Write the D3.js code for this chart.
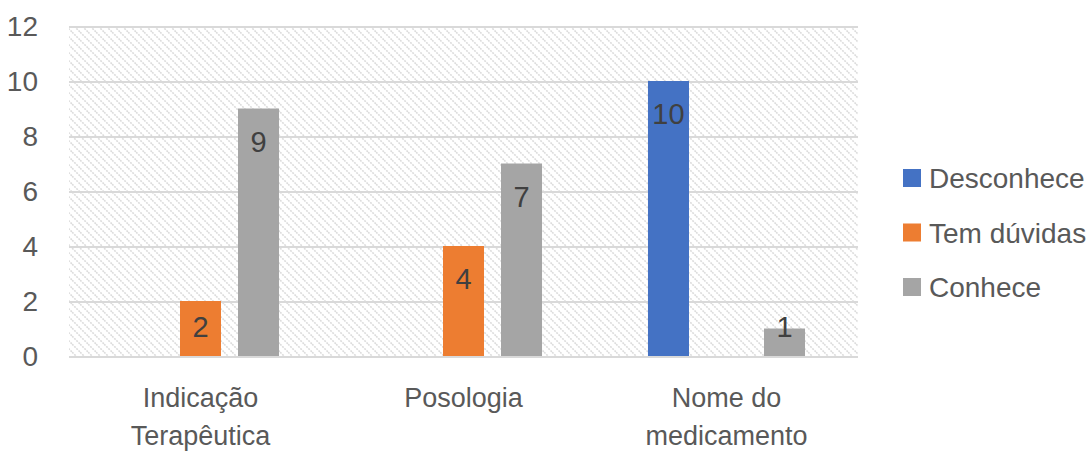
<!DOCTYPE html>
<html>
<head>
<meta charset="utf-8">
<style>
body { margin: 0; background: #fff; }
text { font-family: "Liberation Sans", Arial, sans-serif; fill: #595959; }
.grid line { stroke: #d9d9d9; stroke-width: 2; shape-rendering: crispEdges; }
.grid path { stroke-width: 0; }
</style>
</head>
<body>
<script src="https://cdn.jsdelivr.net/npm/d3@7"></script>
<script>

// chart data
var categories = ["Indicação Terapêutica", "Posologia", "Nome do medicamento"];
var categoryLines = [["Indicação", "Terapêutica"], ["Posologia"], ["Nome do", "medicamento"]];
var seriesNames = ["Desconhece", "Tem dúvidas", "Conhece"];
var desconhece = [0, 0, 10];
var temDuvidas = [2, 4, 0];
var conhece = [9, 7, 1];
var yTicks = [0, 2, 4, 6, 8, 10, 12];

var seriesValues = [desconhece, temDuvidas, conhece];
var colors = ["#4472C4", "#ED7D31", "#A5A5A5"];

var width = 1092, height = 452;
var plot = {left: 69, right: 858, top: 26, bottom: 356};

var svg = d3.select("body").append("svg")
    .attr("width", width)
    .attr("height", height);

// hatched background pattern
var defs = svg.append("defs");
var pat = defs.append("pattern")
    .attr("id", "hatch")
    .attr("patternUnits", "userSpaceOnUse")
    .attr("width", 8).attr("height", 8);
pat.append("path")
    .attr("d", "M-2,-2 L10,10 M-2,6 L2,10 M6,-2 L10,2")
    .style("stroke", "#dcdcdc")
    .style("stroke-width", 1.6)
    .style("stroke-dasharray", "2,1");

var x0 = d3.scaleBand().domain(categories).range([plot.left, plot.right]);
var x1 = d3.scaleBand().domain(seriesNames)
    .range([0, x0.bandwidth()])
    .paddingInner(0.293)
    .paddingOuter(0.913);
var y = d3.scaleLinear().domain([0, 12]).range([plot.bottom, plot.top]);

svg.append("rect")
    .attr("x", plot.left).attr("y", plot.top)
    .attr("width", plot.right - plot.left)
    .attr("height", plot.bottom - plot.top)
    .style("fill", "url(#hatch)");

// gridlines
svg.append("g")
    .attr("class", "grid")
    .attr("transform", "translate(" + plot.left + ",0)")
    .call(d3.axisLeft(y).tickValues(yTicks).tickSize(-(plot.right - plot.left)).tickFormat(""));

// y labels
svg.append("g").selectAll("text")
    .data(yTicks)
    .enter().append("text")
    .attr("x", 38)
    .attr("y", function(d) { return y(d) + 10; })
    .attr("text-anchor", "end")
    .style("font-size", "28px")
    .text(function(d) { return d; });

// bars
var rows = [];
categories.forEach(function(c, i) {
    seriesNames.forEach(function(s, j) {
        rows.push({cat: c, series: s, value: seriesValues[j][i], color: colors[j]});
    });
});
var drawn = rows.filter(function(d) { return d.value > 0; });

svg.append("g").selectAll("rect")
    .data(drawn)
    .enter().append("rect")
    .attr("x", function(d) { return x0(d.cat) + x1(d.series); })
    .attr("y", function(d) { return y(d.value); })
    .attr("width", x1.bandwidth())
    .attr("height", function(d) { return y(0) - y(d.value); })
    .style("fill", function(d) { return d.color; });

// data labels
svg.append("g").selectAll("text")
    .data(drawn)
    .enter().append("text")
    .attr("x", function(d) { return x0(d.cat) + x1(d.series) + x1.bandwidth() / 2; })
    .attr("y", function(d) { return Math.min(y(d.value) + 43, y(0) - 19); })
    .attr("text-anchor", "middle")
    .style("font-size", "29px")
    .style("fill", "#404040")
    .text(function(d) { return d.value; });

// category labels
categories.forEach(function(c, i) {
    var t = svg.append("text")
        .attr("text-anchor", "middle")
        .style("font-size", "27px");
    categoryLines[i].forEach(function(line, k) {
        t.append("tspan")
            .attr("x", x0(c) + x0.bandwidth() / 2)
            .attr("y", 407 + k * 38)
            .text(line);
    });
});

// legend
var legend = svg.append("g").selectAll("g")
    .data(seriesNames)
    .enter().append("g")
    .attr("transform", function(d, i) { return "translate(903," + (178 + i * 54.5) + ")"; });
legend.append("rect")
    .attr("x", 0).attr("y", -9)
    .attr("width", 18).attr("height", 18)
    .style("fill", function(d, i) { return colors[i]; });
legend.append("text")
    .attr("x", 26).attr("y", 10)
    .style("font-size", "28px")
    .text(function(d) { return d; });

</script>
</body>
</html>
